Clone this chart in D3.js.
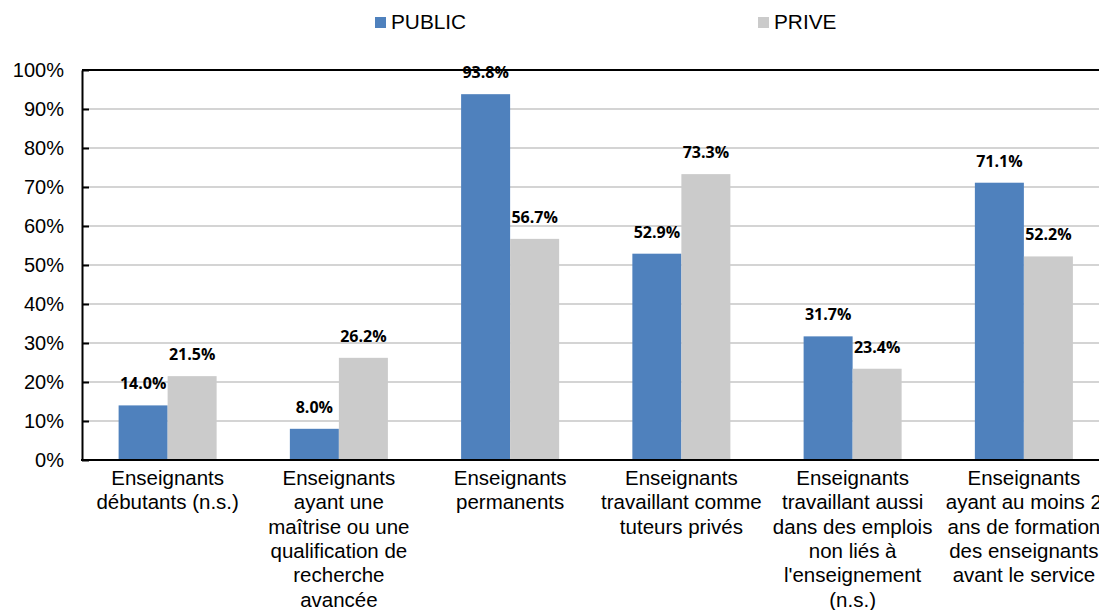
<!DOCTYPE html>
<html>
<head>
<meta charset="utf-8">
<script src="https://cdn.jsdelivr.net/npm/d3@7"></script>
<style>
  html, body { margin: 0; padding: 0; background: #fff; overflow: hidden; }
  svg { display: block; }
</style>
</head>
<body>
<svg id="chart" width="1099" height="610"></svg>
<script>
// Teacher profile shares, public vs private schools (percent)
const categories = [
  "Enseignants\ndébutants (n.s.)",
  "Enseignants\nayant une\nmaîtrise ou une\nqualification de\nrecherche\navancée",
  "Enseignants\npermanents",
  "Enseignants\ntravaillant comme\ntuteurs privés",
  "Enseignants\ntravaillant aussi\ndans des emplois\nnon liés à\nl'enseignement\n(n.s.)",
  "Enseignants\nayant au moins 2\nans de formation\ndes enseignants\navant le service"
];
const seriesNames = ["PUBLIC", "PRIVE"];
const publicValues = [14.0, 8.0, 93.8, 52.9, 31.7, 71.1];
const priveValues = [21.5, 26.2, 56.7, 73.3, 23.4, 52.2];
const yTicks = [0, 10, 20, 30, 40, 50, 60, 70, 80, 90, 100];

const colors = { PUBLIC: "#4F81BD", PRIVE: "#CBCBCB" };
const seriesValues = { PUBLIC: publicValues, PRIVE: priveValues };

const svg = d3.select("#chart");
const plotLeft = 82, plotTop = 70, plotBottom = 460, plotRight = 1109.5;

const x0 = d3.scaleBand().domain(categories).range([plotLeft, plotRight]).padding(0);
const x1 = d3.scaleBand().domain(seriesNames).range([0, x0.bandwidth()])
  .paddingInner(0).paddingOuter(0.747);
const y = d3.scaleLinear().domain([0, 100]).range([plotBottom, plotTop]);

const axisFont = "'Liberation Sans', Arial, sans-serif";

// Horizontal gridlines
svg.append("g").selectAll("line")
  .data(yTicks.filter(t => t > 0))
  .join("line")
  .attr("x1", plotLeft).attr("x2", plotRight)
  .attr("y1", d => y(d)).attr("y2", d => y(d))
  .attr("stroke", d => d === 100 ? "#000" : "#c6c6c6")
  .attr("stroke-width", d => d === 100 ? 2 : 1.6);

// Bars
const groups = svg.append("g").selectAll("g")
  .data(categories)
  .join("g")
  .attr("transform", d => `translate(${x0(d)},0)`);

groups.selectAll("rect")
  .data((d, i) => seriesNames.map(s => ({ s, v: seriesValues[s][i] })))
  .join("rect")
  .attr("x", d => x1(d.s))
  .attr("width", x1.bandwidth())
  .attr("y", d => y(d.v))
  .attr("height", d => y(0) - y(d.v))
  .attr("fill", d => colors[d.s]);

// Y axis with inward ticks
const yAxis = d3.axisLeft(y).tickValues(yTicks).tickFormat(d => d + "%")
  .tickSizeInner(-7).tickSizeOuter(0).tickPadding(18);
const yg = svg.append("g").attr("transform", `translate(${plotLeft},0)`).call(yAxis);
yg.select(".domain").attr("stroke", "#000").attr("stroke-width", 2);
yg.selectAll(".tick line").attr("stroke", "#000").attr("stroke-width", 2);
yg.selectAll(".tick text")
  .attr("font-family", axisFont).attr("font-size", 20).attr("fill", "#000")
  .attr("x", -18);

// X axis baseline
svg.append("line")
  .attr("x1", plotLeft - 1).attr("x2", plotRight)
  .attr("y1", y(0)).attr("y2", y(0))
  .attr("stroke", "#000").attr("stroke-width", 2);

// Category labels
const catLabels = svg.append("g").selectAll("text")
  .data(categories)
  .join("text")
  .attr("text-anchor", "middle")
  .attr("font-family", axisFont).attr("font-size", 20.5).attr("fill", "#000")
  .attr("transform", d => `translate(${x0(d) + x0.bandwidth() / 2},485)`);
catLabels.selectAll("tspan")
  .data(d => d.split("\n"))
  .join("tspan")
  .attr("x", 0)
  .attr("y", (d, i) => i * 24.3)
  .text(d => d);

// Value labels
groups.selectAll("text.val")
  .data((d, i) => seriesNames.map(s => ({ s, v: seriesValues[s][i] })))
  .join("text")
  .attr("class", "val")
  .attr("x", d => x1(d.s) + x1.bandwidth() / 2)
  .attr("y", d => y(d.v) - 16)
  .attr("text-anchor", "middle")
  .attr("font-family", "'Open Sans', sans-serif")
  .attr("font-weight", "bold")
  .attr("font-size", 16)
  .attr("fill", "#000")
  .text(d => d.v.toFixed(1) + "%");

// Legend
const legendItems = [
  { s: "PUBLIC", x: 375 },
  { s: "PRIVE", x: 758 }
];
const lg = svg.append("g").selectAll("g")
  .data(legendItems)
  .join("g")
  .attr("transform", d => `translate(${d.x},0)`);
lg.append("rect")
  .attr("x", 0).attr("y", 17).attr("width", 11).attr("height", 11)
  .attr("fill", d => colors[d.s]);
lg.append("text")
  .attr("x", 16).attr("y", 29)
  .attr("font-family", axisFont).attr("font-size", 20.8).attr("fill", "#000")
  .text(d => d.s);
</script>
</body>
</html>
